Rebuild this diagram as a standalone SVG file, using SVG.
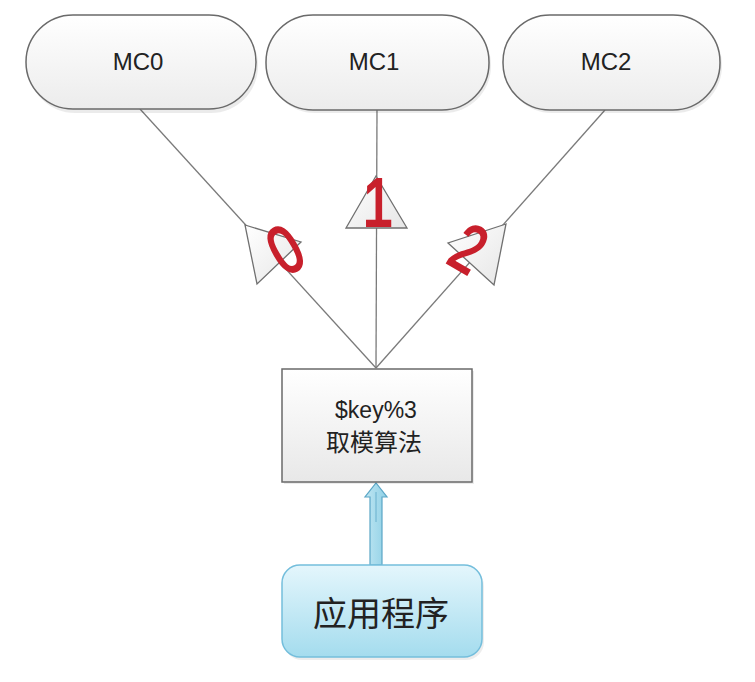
<svg xmlns="http://www.w3.org/2000/svg" width="755" height="682" viewBox="0 0 755 682">
<defs>
<linearGradient id="gPill" x1="0" y1="0" x2="0" y2="1">
<stop offset="0" stop-color="#ffffff"/>
<stop offset="1" stop-color="#ececec"/>
</linearGradient>
<linearGradient id="gBox" x1="0" y1="0" x2="0" y2="1">
<stop offset="0" stop-color="#ffffff"/>
<stop offset="1" stop-color="#e8e8e8"/>
</linearGradient>
<linearGradient id="gTri" x1="0" y1="0" x2="1" y2="1">
<stop offset="0" stop-color="#ffffff"/>
<stop offset="1" stop-color="#e6e6e6"/>
</linearGradient>
<linearGradient id="gApp" x1="0" y1="0" x2="0" y2="1">
<stop offset="0" stop-color="#e4f6fc"/>
<stop offset="1" stop-color="#a4dcee"/>
</linearGradient>
<linearGradient id="gArr" x1="0" y1="0" x2="1" y2="0">
<stop offset="0" stop-color="#bfe6f2"/>
<stop offset="1" stop-color="#8fd0e6"/>
</linearGradient>
</defs>
<style>
.pill{fill:url(#gPill);stroke:#6a6a6a;stroke-width:1.5}
.shadow{fill:#000;opacity:0.08}
.lbl{font-family:"Liberation Sans",Arial,sans-serif;font-size:24px;fill:#222;text-anchor:middle}
.cn{font-family:"Noto Sans CJK SC","Liberation Sans",sans-serif;fill:#222;text-anchor:middle}
.edge{stroke:#7a7a7a;stroke-width:1.3;fill:none}
.tri{fill:url(#gTri);stroke:#707070;stroke-width:1.3}
.num{font-family:"Liberation Sans",Arial,sans-serif;font-size:68px;fill:#c8202c;stroke:#c8202c;stroke-width:2.2;text-anchor:middle}
</style>
<g id="connectors">
<line class="edge" x1="140" y1="109" x2="376" y2="368"/>
<line class="edge" x1="377" y1="110" x2="376" y2="368"/>
<line class="edge" x1="605" y1="110" x2="376" y2="368"/>
<polygon class="tri" points="245,225 301,242 257,284"/>
<polygon class="tri" points="376,176 346,228 407,228"/>
<polygon class="tri" points="506,224 448,243 494,285"/>
<text class="num" transform="translate(378 202) scale(0.8 1)" y="24">1</text>
<text class="num" transform="translate(285 249) rotate(-30) scale(0.75 1)" y="24">0</text>
<text class="num" transform="translate(469 248) rotate(30) scale(0.75 1)" y="24">2</text>
<path d="M370,565 L370,497 L365,497 L376,483 L387,497 L382,497 L382,565 Z" fill="url(#gArr)" stroke="#5aa6c6" stroke-width="1.2"/>
<line x1="376" y1="492" x2="376" y2="522" stroke="#5aa6c6" stroke-width="0.8"/>
</g>
<g id="MC0">
<rect class="shadow" x="28" y="18" width="230" height="95" rx="47"/>
<rect class="pill" x="26" y="15" width="230" height="94" rx="47"/>
<text class="lbl" x="138" y="70">MC0</text>
</g>
<g id="MC1">
<rect class="shadow" x="268" y="18" width="223" height="95" rx="47"/>
<rect class="pill" x="266" y="15" width="223" height="95" rx="47"/>
<text class="lbl" x="374" y="70">MC1</text>
</g>
<g id="MC2">
<rect class="shadow" x="505" y="18" width="217" height="95" rx="47"/>
<rect class="pill" x="503" y="15" width="217" height="95" rx="47"/>
<text class="lbl" x="606" y="70">MC2</text>
</g>
<g id="mod">
<rect x="284" y="371" width="190" height="113" fill="#000" opacity="0.08"/>
<rect x="282" y="369" width="190" height="113" fill="url(#gBox)" stroke="#6a6a6a" stroke-width="1.5"/>
<text class="lbl" x="376" y="418" style="font-size:23px">$key%3</text>
<text class="cn" x="374" y="451" style="font-size:24px">取模算法</text>
</g>
<g id="app">
<rect x="284" y="568" width="200" height="92" rx="18" fill="#000" opacity="0.07"/>
<rect x="282" y="565" width="200" height="92" rx="18" fill="url(#gApp)" stroke="#74bedc" stroke-width="1.5"/>
<text class="cn" x="381" y="626" style="font-size:34px">应用程序</text>
</g>
</svg>
